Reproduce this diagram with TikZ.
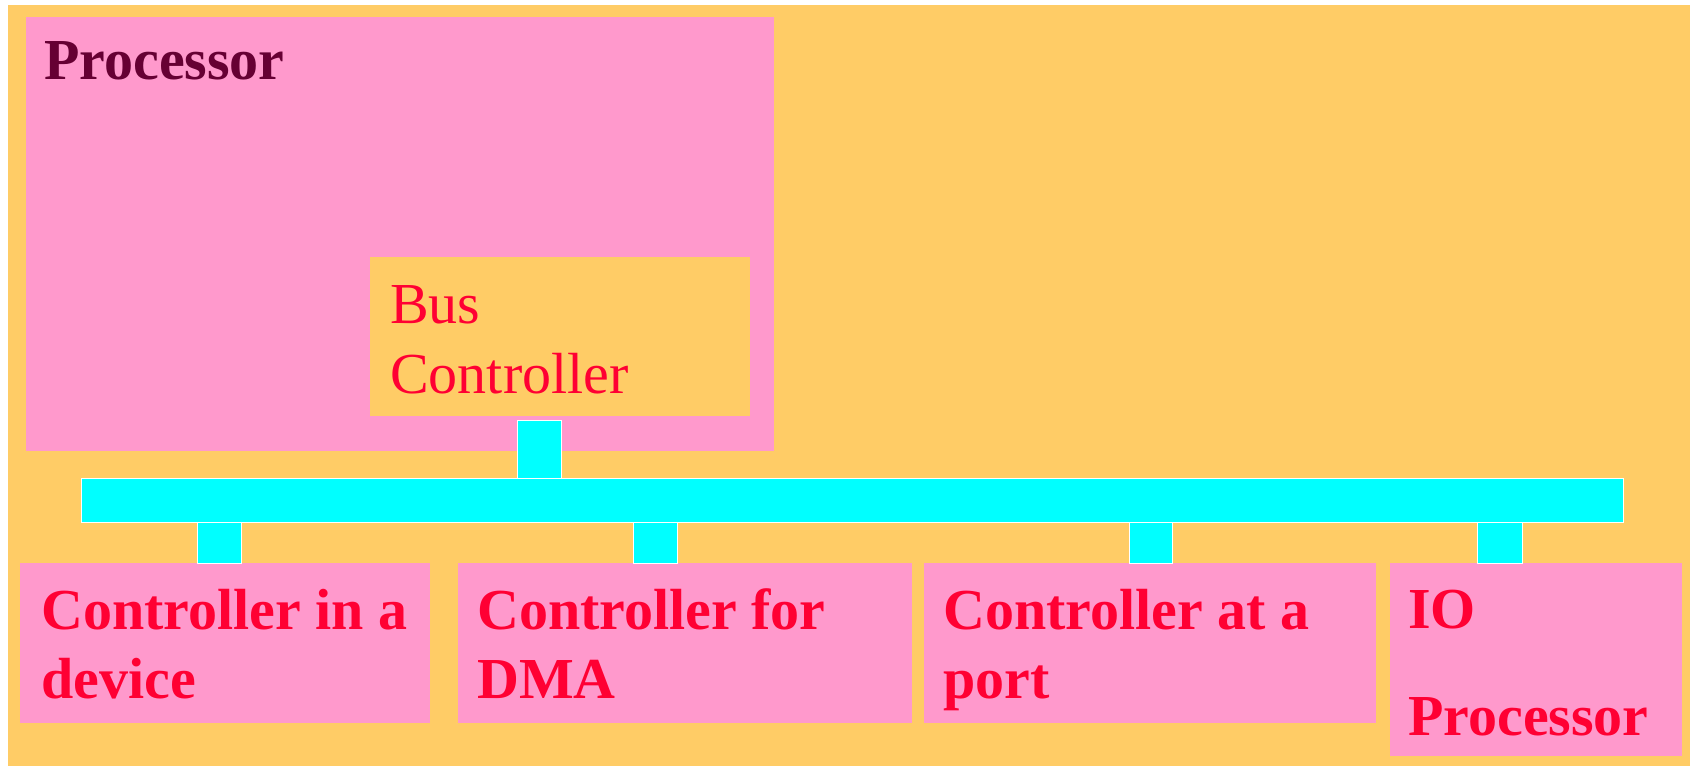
\documentclass[tikz,border=0pt]{standalone}
\usepackage{fontspec}
\setmainfont{Liberation Serif}
\usetikzlibrary{positioning}
\definecolor{paper}{RGB}{255,204,102}
\definecolor{rose}{RGB}{255,153,204}
\definecolor{busblue}{RGB}{0,255,255}
\definecolor{labelred}{RGB}{255,0,51}
\definecolor{darkwine}{RGB}{102,0,51}

\tikzset{
  block/.style={rectangle, fill=rose, anchor=north west, inner sep=0, outer sep=0},
  bcblock/.style={block, fill=paper},
  busbar/.style={rectangle, fill=busblue, draw=white, line width=1pt, anchor=north west, inner sep=0, outer sep=0},
  stub/.style={fill=busblue, draw=white, line width=1pt},
  blocktext/.style={anchor=base west, align=left, inner sep=0, text=labelred,
    font=\bfseries\fontsize{58}{69}\selectfont}
}

\begin{document}
\begin{tikzpicture}[x=1pt,y=-1pt]
        % Draw page background
        \useasboundingbox (0,0) rectangle (1696,766);
        \fill[white] (0,0) rectangle (1696,766);
        \fill[paper] (8,5) rectangle (1690,766);
        % Draw processor and bus controller
        \node[block, minimum width=748, minimum height=434] (proc) at (26,17) {};
        \node[anchor=base west, inner sep=0, text=darkwine, font=\bfseries\fontsize{58}{69}\selectfont]
            (proctext) at ([shift={(18,62)}]proc.north west) {Processor};
        \node[bcblock, minimum width=380, minimum height=159] (bc) at (370,257) {};
        % (base anchor sits on the last line)
        \node[anchor=base west, align=left, inner sep=0, text=labelred, font=\fontsize{58}{70}\selectfont]
            (bctext) at ([shift={(20,136)}]bc.north west) {Bus\\Controller};
        % Draw the bus
        \node[busbar, minimum width=1542, minimum height=44] (bus) at (81,478) {};
        \coordinate (bcfoot) at ([yshift=-4pt]bc.south);
        \draw[stub] (bcfoot -| 517,0) rectangle (bus.north -| 561,0);
        % Draw the controllers below the bus
        \node[block, minimum width=410, minimum height=160] (dev) at (20,563) {};
        \node[block, minimum width=454, minimum height=160] (dma) at (458,563) {};
        \node[block, minimum width=452, minimum height=160] (port) at (924,563) {};
        \node[block, minimum width=292, minimum height=193] (iop) at (1390,563) {};
        % Stubs from bus to controllers
        \foreach \xl/\xr/\dst in {197/241/dev, 633/677/dma, 1129/1172/port, 1477/1522/iop}
            \draw[stub] (bus.south -| \xl,0) rectangle (\dst.north -| \xr,0);
        \node[blocktext] (devtext) at ([shift={(21,135)}]dev.north west) {Controller in a\\device};
        \node[blocktext] (dmatext) at ([shift={(19,135)}]dma.north west) {Controller for\\DMA};
        \node[blocktext] (porttext) at ([shift={(19,135)}]port.north west) {Controller at a\\port};
        \node[blocktext] (ioptext) at ([shift={(18,172)}]iop.north west) {IO\\[38pt]Processor};
    \end{tikzpicture}
\end{document}
